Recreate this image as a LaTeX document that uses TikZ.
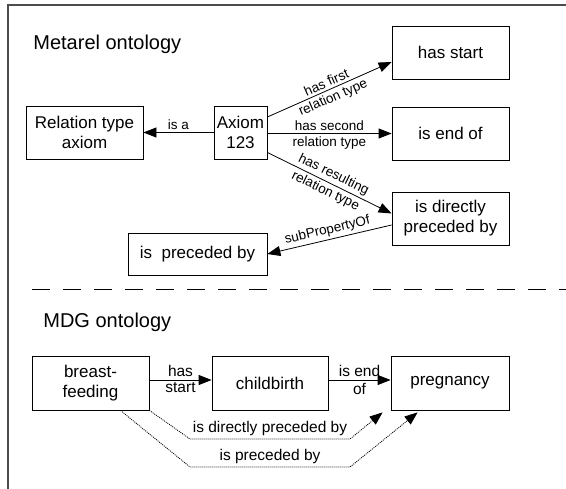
\documentclass[tikz,border=0pt]{standalone}
\usepackage{fontspec}
\setmainfont{Liberation Sans}
\usetikzlibrary{arrows.meta, calc}
\newcommand{\titlefont}{\fontsize{20}{24}\selectfont}
\newcommand{\boxfont}{\fontsize{17}{20}\selectfont}
\newcommand{\relfont}{\fontsize{13.5}{16}\selectfont}
\newcommand{\mdgfont}{\fontsize{15.5}{17}\selectfont}

\begin{document}
\begin{tikzpicture}[x=1pt, y=-1pt, line width=0.8pt,
    box/.style={draw, align=center, font=\boxfont, inner sep=0pt},
    wide/.style={minimum width=117pt, minimum height=53pt},
    rel/.style={-{Triangle[length=13pt,width=10pt]}},
    derived/.style={rel, dash pattern=on 1pt off 1pt},
    lbl/.style={font=\relfont, inner sep=2.5pt},
    mdglbl/.style={font=\mdgfont, inner sep=2.5pt}]
          \useasboundingbox (0,0) rectangle (566,489);
          \draw[black!70, line width=1.2pt] (8,489) -- (8,5) -- (566,5);
          % Metarel part
          \node[anchor=base west, font=\titlefont, inner sep=0pt] (metatitle) at (33,50) {Metarel ontology};
          \node[box, wide] (hasstart) at (450.5,52.5) {has start};
          \node[box, wide] (relaxiom) at (84.5,132.5) {Relation type\\axiom};
          \node[box, minimum width=53pt, minimum height=53pt] (axiom) at (240.5,132.5) {Axiom\\123};
          \node[box, wide] (isendof) at (450.5,133.5) {is end of};
          \node[box, wide] (directly) at (450.5,218.5) {is directly\\preceded by};
          \node[box, minimum width=139pt, minimum height=42pt] (preceded) at (197.5,254) {is\ \ preceded by};
          \draw[rel] (axiom.west) -- (relaxiom.east) node[midway, above, lbl] {is a};
          \draw[rel] ([yshift=15.5pt]axiom.east) -- ([yshift=-9.5pt]hasstart.west)
              node[midway, sloped, above, lbl] {has first}
              node[midway, sloped, below, lbl] {relation type};
          \draw[rel] ([yshift=-1pt]axiom.east) -- (isendof.west)
              node[midway, above, lbl] {has second}
              node[midway, below, lbl] {relation type};
          \draw[rel] ([yshift=-20pt]axiom.east) -- ([yshift=5pt]directly.west)
              node[midway, sloped, above, lbl] {has resulting}
              node[midway, sloped, below, lbl] {relation type};
          \draw[rel] ([yshift=-6.5pt]directly.west) -- (preceded.east)
              node[midway, sloped, above, lbl] {subPropertyOf};
          % separator
          \draw[dash pattern=on 18pt off 13pt] (32,289) -- (566,289);
          % MDG part
          \node[anchor=base west, font=\titlefont, inner sep=0pt] (mdgtitle) at (43,328) {MDG ontology};
          \node[box, minimum width=117pt, minimum height=54pt] (breast) at (90.5,383) {breast-\\feeding};
          \node[box, minimum width=116pt, minimum height=54pt] (childbirth) at (270,383) {childbirth};
          \node[box, minimum width=118pt, minimum height=54pt] (pregnancy) at (450,383) {pregnancy};
          \draw[rel] ([yshift=3pt]breast.east) -- ([yshift=3pt]childbirth.west)
              node[midway, above, mdglbl] {has}
              node[midway, below, mdglbl] {start};
          \draw[rel] ([yshift=3pt]childbirth.east) -- ([yshift=3pt]pregnancy.west)
              node[midway, above, mdglbl] {is end}
              node[midway, below, mdglbl] {of};
          \draw[derived] (breast.south east) -- (190,439) -- (350,439)
              node[midway, above, mdglbl] {is directly preceded by}
              -- ([shift={(-8pt,-2pt)}]pregnancy.south west);
          \draw[derived] ([xshift=-29pt]breast.south east) -- (190,467) -- (350,467)
              node[midway, above, mdglbl] {is preceded by}
              -- ([shift={(27pt,-2pt)}]pregnancy.south west);
\end{tikzpicture}
\end{document}
